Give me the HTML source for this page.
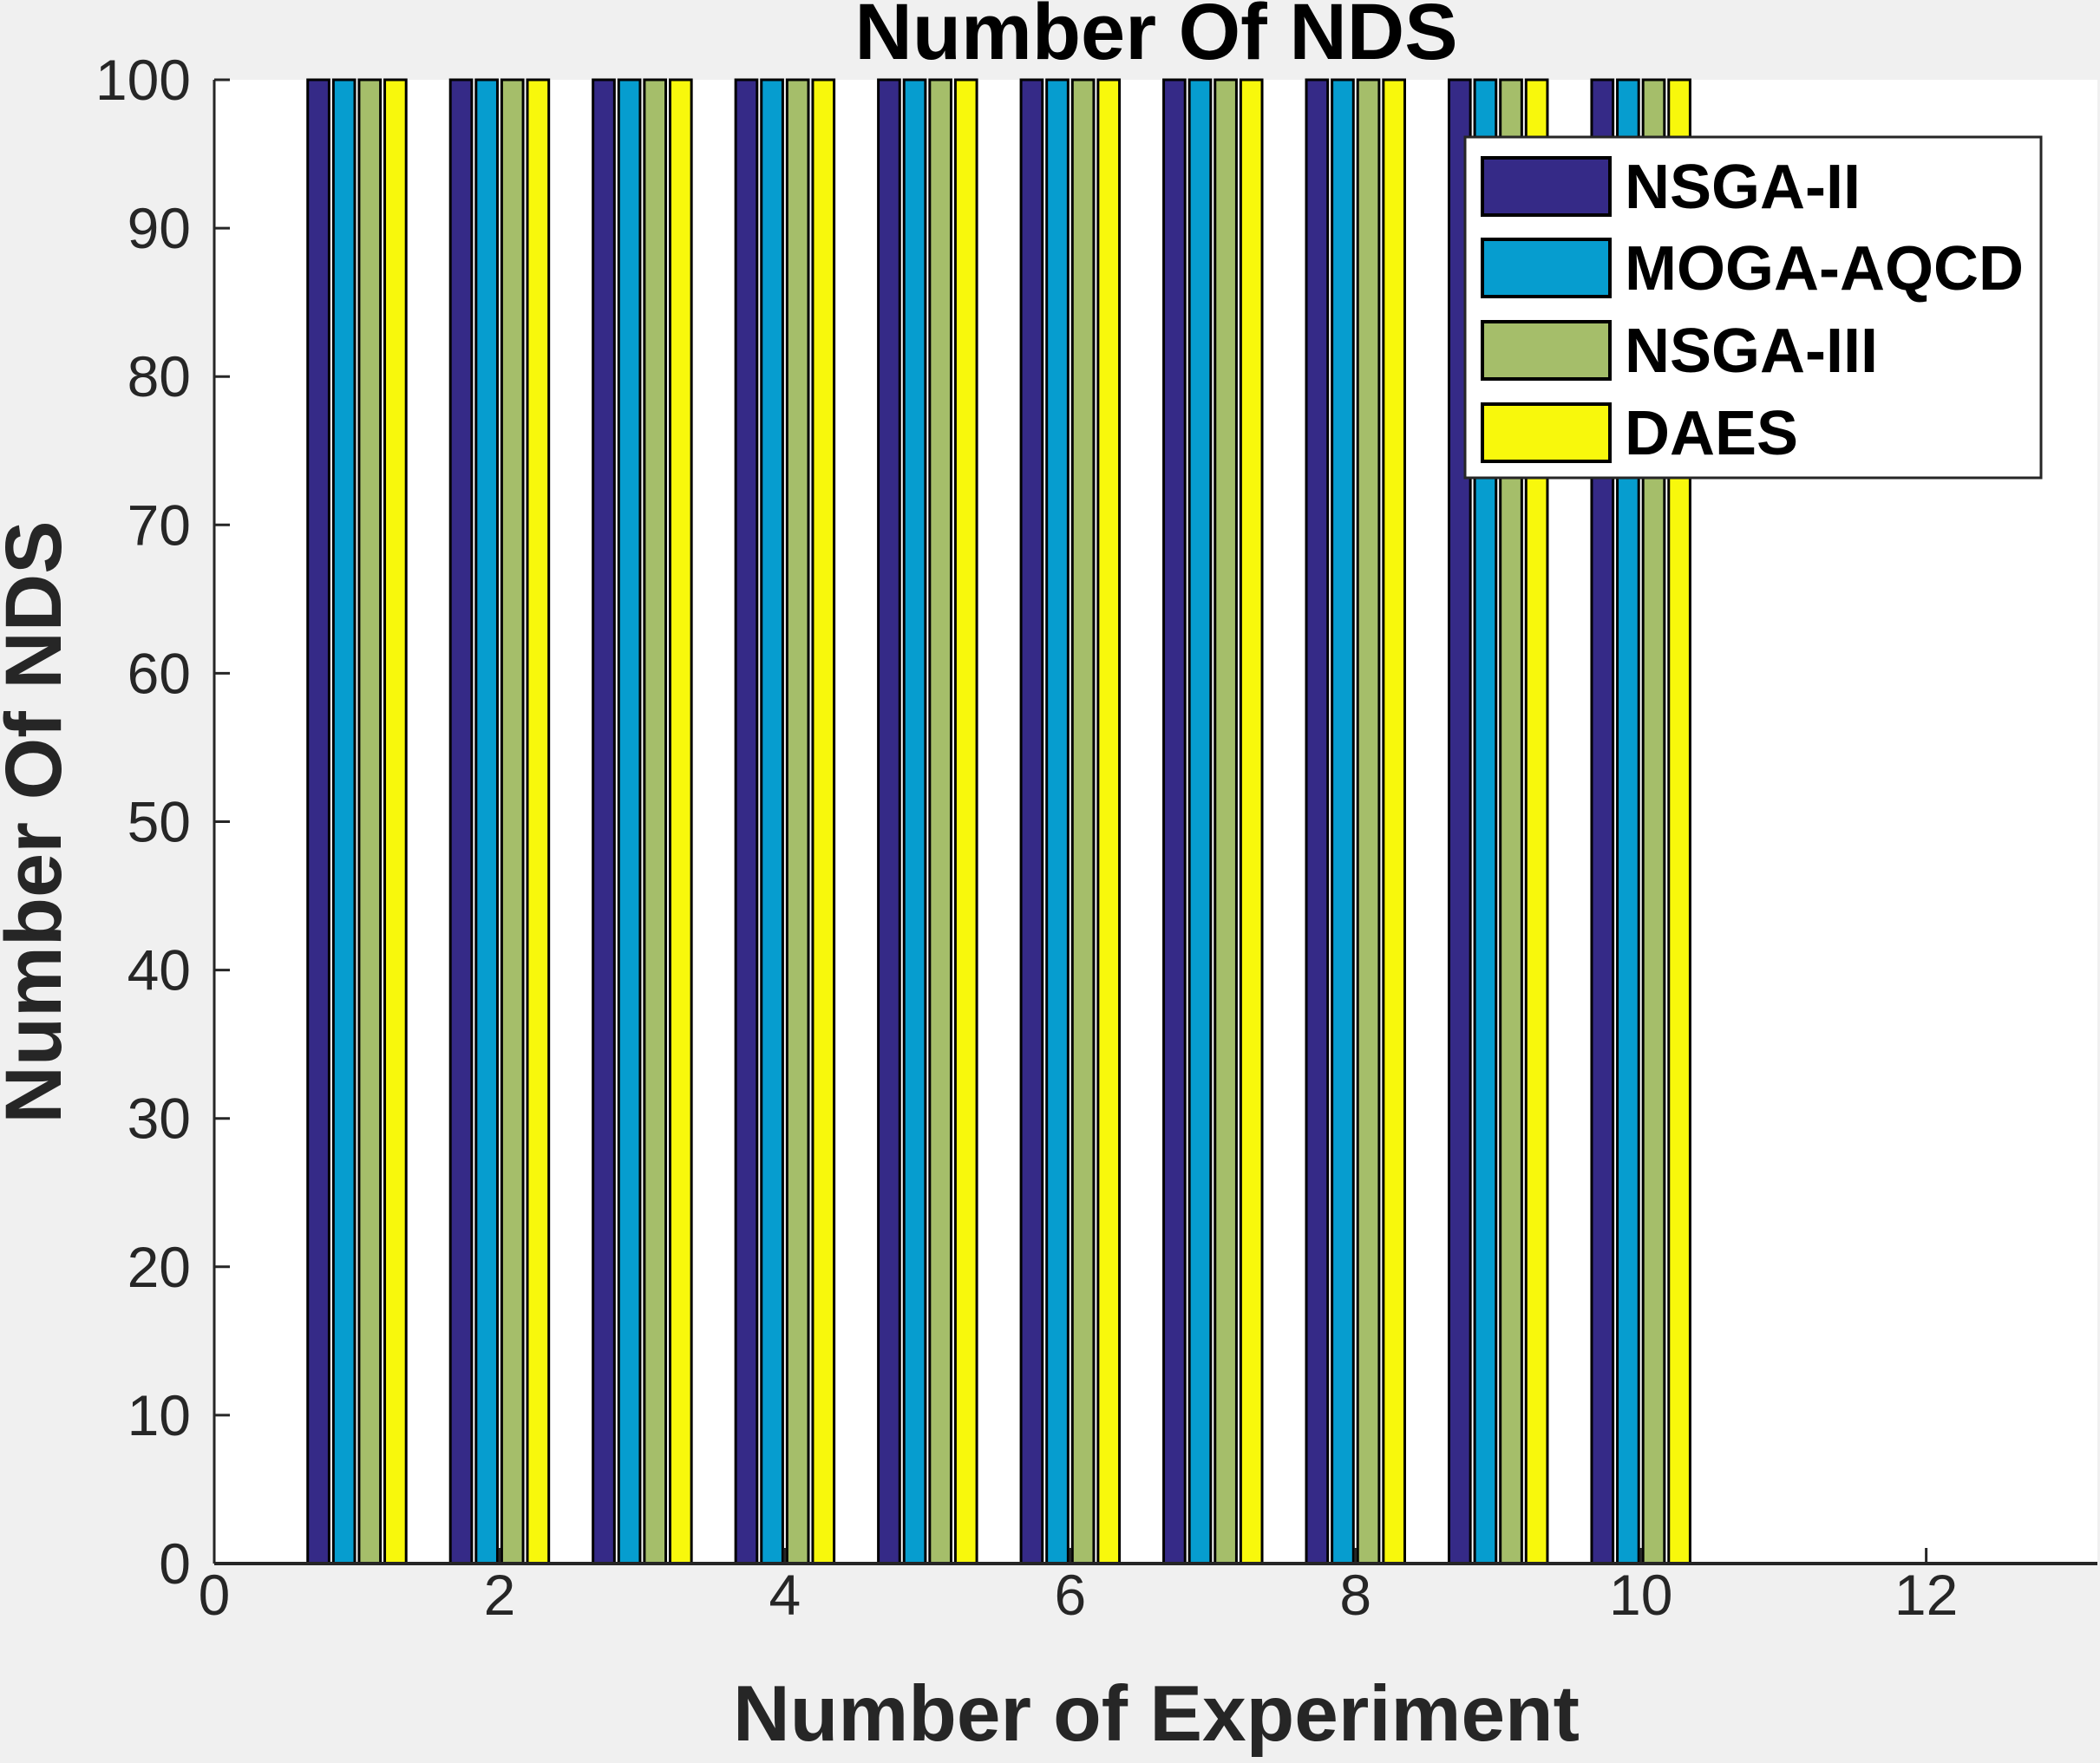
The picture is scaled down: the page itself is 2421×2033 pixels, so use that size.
<!DOCTYPE html>
<html><head><meta charset="utf-8"><style>
html,body{margin:0;padding:0;background:#f0f0f0;}
svg{display:block;}
text{font-family:"Liberation Sans",Arial,sans-serif;}
</style></head><body>
<svg id="chart" width="2421" height="2033" viewBox="0 0 2421 2033" xmlns="http://www.w3.org/2000/svg">
<rect x="0" y="0" width="2421" height="2033" fill="#f0f0f0"/>
<rect x="247" y="92" width="2171" height="1711" fill="#ffffff"/>
<g id="bars"></g>
<g id="axes"></g>
<text x="1333" y="68" text-anchor="middle" font-size="92" font-weight="bold" fill="#000">Number Of NDS</text>
<text x="1333" y="2007" text-anchor="middle" font-size="91" font-weight="bold" fill="#262626">Number of Experiment</text>
<text transform="translate(70,948) rotate(-90)" text-anchor="middle" font-size="92" font-weight="bold" fill="#262626">Number Of NDS</text>
<g id="legend"></g>
</svg>
<script>
const categories = [1,2,3,4,5,6,7,8,9,10];
const seriesNames = ["NSGA-II","MOGA-AQCD","NSGA-III","DAES"];
const nsga2 = [100,100,100,100,100,100,100,100,100,100];
const mogaAqcd = [100,100,100,100,100,100,100,100,100,100];
const nsga3 = [100,100,100,100,100,100,100,100,100,100];
const daes = [100,100,100,100,100,100,100,100,100,100];
const xTicks = [0,2,4,6,8,10,12];
const yTicks = [0,10,20,30,40,50,60,70,80,90,100];

const NS="http://www.w3.org/2000/svg";
const L=247,R=2418,T=92,B=1803,XMAX=13.2,YMAX=100;
const xs=v=>L+(v/XMAX)*(R-L);
const ys=v=>B-(v/YMAX)*(B-T);
const colors=["#352a87","#069dcf","#a5be6a","#f8f80c"];
const series=[nsga2,mogaAqcd,nsga3,daes];
const offsets=[-0.27,-0.09,0.09,0.27];
const bw=0.15;
function mk(tag,attrs,parent){const e=document.createElementNS(NS,tag);for(const k in attrs)e.setAttribute(k,attrs[k]);parent.appendChild(e);return e;}
const gb=document.getElementById('bars');
series.forEach((s,si)=>{
  s.forEach((v,i)=>{
    const x0=xs(categories[i]+offsets[si]-bw/2),x1=xs(categories[i]+offsets[si]+bw/2);
    const r=mk('rect',{x:x0,y:ys(v),width:x1-x0,height:ys(0)-ys(v),fill:colors[si],stroke:'#000','stroke-width':3},gb);
    
    
  });
});
const ga=document.getElementById('axes');
const xl=mk('line',{x1:L,y1:B,x2:R,y2:B,stroke:'#262626','stroke-width':4},ga);


const yl=mk('line',{x1:L,y1:T,x2:L,y2:B,stroke:'#262626','stroke-width':3},ga);


xTicks.forEach(t=>{
  const x=xs(t);
  const tk=mk('line',{x1:x,y1:B,x2:x,y2:B-18,stroke:'#262626','stroke-width':3},ga);
  
  
  const tx=mk('text',{x:x,y:1862,'text-anchor':'middle','font-size':66,fill:'#262626'},ga);
  tx.textContent=t;
  
  
});
yTicks.forEach(t=>{
  const y=ys(t);
  const tk=mk('line',{x1:L,y1:y,x2:L+18,y2:y,stroke:'#262626','stroke-width':3},ga);
  
  
  const tx=mk('text',{x:220,y:y+23,'text-anchor':'end','font-size':66,fill:'#262626'},ga);
  tx.textContent=t;
  
  
});
const gl=document.getElementById('legend');
const box=mk('rect',{x:1689,y:158,width:664,height:393,fill:'#fff',stroke:'#262626','stroke-width':3},gl);


const rowY=[215,309,404,499];
seriesNames.forEach((n,i)=>{
  const sw=mk('rect',{x:1709,y:rowY[i]-33,width:147,height:66,fill:colors[i],stroke:'#000','stroke-width':4},gl);
  
  
  const tx=mk('text',{x:1873,y:rowY[i]+25,'font-size':72,'font-weight':'bold',fill:'#000'},gl);
  tx.textContent=n;
  
  
});
</script>
</body></html>
